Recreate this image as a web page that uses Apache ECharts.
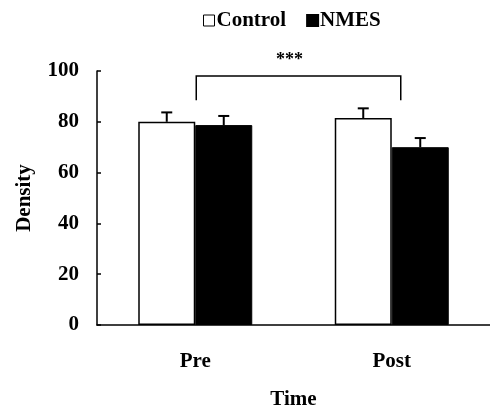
<!DOCTYPE html>
<html><head><meta charset="utf-8">
<script src="https://cdn.jsdelivr.net/npm/echarts@6/dist/echarts.min.js"></script>
<style>html,body{margin:0;padding:0;background:#fff}#c{width:490px;height:412px}</style>
</head><body><div id="c"></div>
<script>
var categories = ['Pre', 'Post'];
var controlValues = [80.0, 81.5];
var controlErrors = [3.7, 3.8];
var nmesValues = [78.7, 70.0];
var nmesErrors = [3.6, 3.6];
var yTicks = [0, 20, 40, 60, 80, 100];
var bracket = { from: 0, to: 1, top: 98, bottom: 88.5, label: '***' };

var FONT = '"Liberation Serif", "Times New Roman", serif';
var BAR_W = 57;
var chart = echarts.init(document.getElementById('c'));

function errorSeries(values, errors, dir) {
  return {
    type: 'custom',
    silent: true,
    z: 5,
    data: values.map(function (v, i) { return [i, v, v + errors[i]]; }),
    renderItem: function (params, api) {
      var lo = api.coord([api.value(0), api.value(1)]);
      var hi = api.coord([api.value(0), api.value(2)]);
      var x = lo[0] + dir * BAR_W / 2;
      var s = { stroke: '#000', lineWidth: 2 };
      return { type: 'group', children: [
        { type: 'line', shape: { x1: x, y1: lo[1], x2: x, y2: hi[1] }, style: s },
        { type: 'line', shape: { x1: x - 5.5, y1: hi[1], x2: x + 5.5, y2: hi[1] }, style: s }
      ]};
    }
  };
}

chart.setOption({
  animation: false,
  backgroundColor: '#fff',
  legend: {
    left: 198, top: 5,
    itemWidth: 11, itemHeight: 11, itemGap: 20,
    icon: 'rect',
    textStyle: { fontFamily: FONT, fontWeight: 'bold', fontSize: 21, color: '#000', padding: [0, 0, 0, -3] },
    data: [
      { name: 'Control', itemStyle: { color: '#fff', borderColor: '#000', borderWidth: 1 } },
      { name: 'NMES', itemStyle: { color: '#000' } }
    ]
  },
  grid: { left: 97, right: 0, top: 71, bottom: 87, outerBoundsMode: 'none', containLabel: false },
  xAxis: {
    type: 'category',
    data: categories,
    name: 'Time', nameLocation: 'middle', nameGap: 64,
    nameTextStyle: { fontFamily: FONT, fontWeight: 'bold', fontSize: 21, color: '#000' },
    axisLine: { lineStyle: { color: '#000', width: 1.5 } },
    axisTick: { inside: true, length: 4, lineStyle: { color: '#000', width: 1.5 } },
    axisLabel: { margin: 26, fontFamily: FONT, fontWeight: 'bold', fontSize: 21, color: '#000' }
  },
  yAxis: {
    type: 'value', min: 0, max: 100, interval: 20,
    name: 'Density', nameLocation: 'middle', nameGap: 62,
    nameTextStyle: { fontFamily: FONT, fontWeight: 'bold', fontSize: 21, color: '#000' },
    axisLine: { show: true, lineStyle: { color: '#000', width: 1.5 } },
    axisTick: { show: true, inside: true, length: 4, lineStyle: { color: '#000', width: 1.5 } },
    splitLine: { show: false },
    axisLabel: {
      margin: 18, fontFamily: FONT, fontWeight: 'bold', fontSize: 21, color: '#000',
      formatter: function (v) { return yTicks.indexOf(v) >= 0 ? String(v) : ''; }
    }
  },
  series: [
    { name: 'Control', type: 'bar', data: controlValues, barWidth: BAR_W, barGap: '0%',
      itemStyle: { color: '#fff', borderColor: '#000', borderWidth: 1.5 } },
    { name: 'NMES', type: 'bar', data: nmesValues, barWidth: BAR_W, barGap: '0%',
      itemStyle: { color: '#000', borderColor: '#000', borderWidth: 1 } },
    errorSeries(controlValues, controlErrors, -1),
    errorSeries(nmesValues, nmesErrors, 1),
    {
      type: 'custom', silent: true, z: 5,
      data: [[bracket.from, bracket.to, bracket.top, bracket.bottom]],
      renderItem: function (params, api) {
        var a = api.coord([api.value(0), api.value(3)]);
        var aT = api.coord([api.value(0), api.value(2)]);
        var b = api.coord([api.value(1), api.value(3)]);
        var x1 = a[0] + 1, x2 = b[0] + 9;
        return { type: 'group', children: [
          { type: 'polyline', shape: { points: [[x1, a[1]], [x1, aT[1]], [x2, aT[1]], [x2, b[1]]] },
            style: { stroke: '#000', lineWidth: 1.5, fill: null } },
          { type: 'text', x: (x1 + x2) / 2 - 9, y: aT[1] - 16,
            style: { text: bracket.label, fontFamily: FONT, fontWeight: 'bold', fontSize: 18,
                     fill: '#000', align: 'center', verticalAlign: 'middle' } }
        ]};
      }
    }
  ]
});
</script></body></html>
